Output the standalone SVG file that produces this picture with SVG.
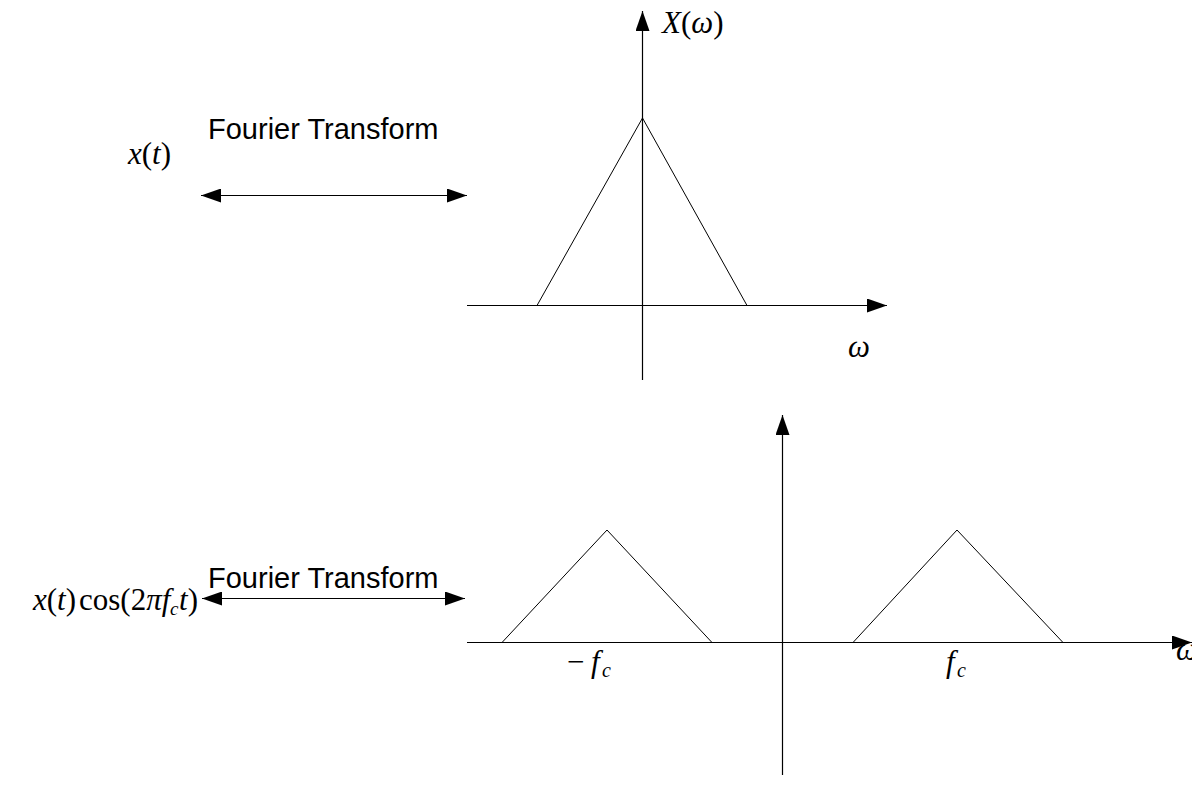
<svg xmlns="http://www.w3.org/2000/svg" width="1192" height="789" viewBox="0 0 1192 789">
<style>
.ax{stroke:#000;stroke-width:1.2;fill:none}
.tri{stroke:#000;stroke-width:1;fill:none}
.m{font-family:"Liberation Serif","Times New Roman",serif;font-size:31px;fill:#000}
.i{font-style:italic}
.s{font-family:"Liberation Sans",Arial,sans-serif;font-size:29px;fill:#000}
.ah{fill:#000}
</style>
<defs>
<marker id="arr" markerWidth="20" markerHeight="14" refX="20" refY="7" orient="auto-start-reverse" markerUnits="userSpaceOnUse">
<path d="M0,0 L20,7 L0,14 Z" class="ah"/>
</marker>
</defs>
<rect width="1192" height="789" fill="#fff"/>
<g id="top-plot">
<line class="ax" x1="642.5" y1="380" x2="642.5" y2="11" marker-end="url(#arr)"/>
<line class="ax" x1="467" y1="305.5" x2="887" y2="305.5" marker-end="url(#arr)"/>
<polyline class="tri" points="537,305.5 642.5,118 747,305.5"/>
<text class="m" x="662" y="33" font-size="33"><tspan class="i">X</tspan>(<tspan class="i">ω</tspan>)</text>
<text class="m i" x="848" y="357" font-size="36">ω</text>
</g>
<g id="bottom-plot">
<line class="ax" x1="782.5" y1="775" x2="782.5" y2="415" marker-end="url(#arr)"/>
<line class="ax" x1="467" y1="642.5" x2="1192" y2="642.5" marker-end="url(#arr)"/>
<polyline class="tri" points="502,642.5 607,530 712,642.5"/>
<polyline class="tri" points="853,642.5 957,530 1063,642.5"/>
<text class="m" x="567" y="672">−<tspan class="i" x="591">f</tspan><tspan class="i" x="602" y="677" font-size="20">c</tspan></text>
<text class="m" x="946" y="672"><tspan class="i">f</tspan><tspan class="i" x="957" y="677" font-size="20">c</tspan></text>
<text class="m i" x="1176" y="660" font-size="36">ω</text>
</g>
<g id="label-xt">
<text class="m" x="128" y="164"><tspan class="i">x</tspan>(<tspan class="i">t</tspan>)</text>
<text class="s" x="208" y="139">Fourier Transform</text>
</g>
<g id="label-xtcos">
<text class="m" x="33" y="610" font-size="30"><tspan class="i">x</tspan>(<tspan class="i">t</tspan>)<tspan x="79">cos(2</tspan><tspan class="i">π</tspan><tspan class="i">f</tspan><tspan class="i" x="170" y="615" font-size="19">c</tspan><tspan class="i" x="179" y="610">t</tspan>)</text>
<text class="s" x="208" y="588">Fourier Transform</text>
</g>
<g id="connectors">
<line class="ax" x1="201" y1="195.5" x2="467" y2="195.5" marker-start="url(#arr)" marker-end="url(#arr)"/>
<line class="ax" x1="202" y1="598.5" x2="465" y2="598.5" marker-start="url(#arr)" marker-end="url(#arr)"/>
</g>
</svg>
